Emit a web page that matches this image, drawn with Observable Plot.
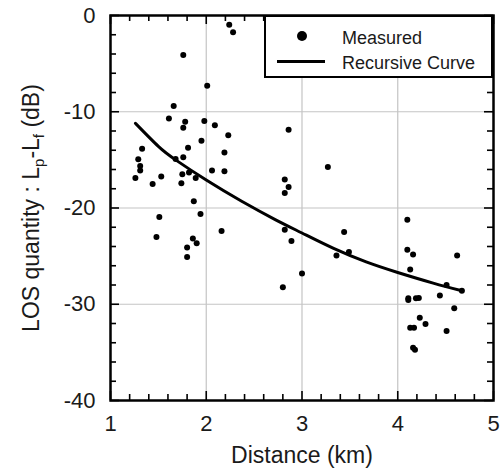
<!DOCTYPE html>
<html>
<head>
<meta charset="utf-8">
<script src="https://cdn.jsdelivr.net/npm/d3@7"></script>
<script src="https://cdn.jsdelivr.net/npm/@observablehq/plot@0.6"></script>
<style>
  body { margin: 0; background: #fff; }
  #wrap { position: relative; width: 502px; height: 470px; font-family: "Liberation Sans", Arial, sans-serif; color: #1a1a1a; }
  #legend { position: absolute; left: 264px; top: 15px; width: 229px; height: 63px; box-sizing: border-box; border: 2.5px solid #000; background: #fff; }
  #legend .item { position: absolute; left: 76px; font-size: 18px; line-height: 18px; white-space: nowrap; }
  #legend .sym-dot { position: absolute; left: 31px; top: 14px; width: 10px; height: 10px; border-radius: 50%; background: #000; }
  #legend .sym-line { position: absolute; left: 11px; top: 43px; width: 48px; height: 3px; background: #000; }
</style>
</head>
<body>
<div id="wrap"></div>
<script>
// Measured points (distance in km, LOS quantity Lp-Lf in dB)
const distance = [2.24,2.28,1.76,2.01,1.66,1.61,1.78,1.76,1.98,2.09,
  2.23,2.86,1.95,1.81,1.33,1.29,2.19,1.76,1.68,1.31,
  1.31,1.26,1.53,1.44,1.75,1.74,1.82,1.89,2.06,2.19,
  1.87,1.94,1.51,1.48,2.16,1.86,1.90,1.80,1.80,
  3.27,2.82,2.86,2.82,2.82,3.44,2.89,3.36,3.49,3.00,2.80,
  4.10,4.10,4.16,4.62,4.13,4.51,4.67,4.44,4.11,4.11,
  4.19,4.22,4.59,4.23,4.29,4.13,4.17,4.51,4.16,4.18];
const losQuantity = [-0.97,-1.74,-4.10,-7.29,-9.41,-10.69,-11.04,-11.67,-10.97,-11.39,
  -12.43,-11.88,-13.02,-13.75,-13.85,-14.93,-14.24,-14.72,-14.90,-15.63,
  -16.11,-16.88,-16.74,-17.50,-16.49,-17.43,-16.32,-16.88,-16.11,-16.18,
  -19.31,-20.63,-20.94,-23.02,-22.40,-23.16,-23.65,-24.10,-25.10,
  -15.73,-17.05,-17.81,-18.44,-22.26,-22.50,-23.44,-24.93,-24.58,-26.81,-28.23,
  -21.22,-24.34,-24.83,-24.93,-26.39,-27.99,-28.61,-29.10,-29.38,-29.55,
  -29.38,-29.34,-30.42,-31.39,-32.05,-32.43,-32.43,-32.78,-34.51,-34.72];

// Recursive curve
const curveDistance = [1.26,1.50,1.68,2.00,2.37,2.72,3.00,3.33,3.67,4.00,4.37,4.67];
const curveLos = [-11.2,-13.6,-15.0,-17.1,-19.3,-21.2,-22.6,-24.2,-25.6,-26.7,-27.8,-28.6];

// Ticks
const xTicks = [1,2,3,4,5];
const yTicks = [0,-10,-20,-30,-40];
const xGrid = [2,3,4];
const yGrid = [-10,-20,-30];
const xMinorTicks = [1.2,1.4,1.6,1.8,2.2,2.4,2.6,2.8,3.2,3.4,3.6,3.8,4.2,4.4,4.6,4.8];
const yMinorTicks = [-2,-4,-6,-8,-12,-14,-16,-18,-22,-24,-26,-28,-32,-34,-36,-38];

const xTitle = "Distance (km)";
const yTitle = "LOS quantity : Lp-Lf (dB)";
const legendLabels = ["Measured", "Recursive Curve"];

const points = distance.map((d, i) => ({distance: d, los: losQuantity[i]}));
const curve = curveDistance.map((d, i) => ({distance: d, los: curveLos[i]}));

const W = 502, H = 470, ML = 110, MR = 9, MT = 15, MB = 70;
const frameW = W - ML - MR, frameH = H - MT - MB;
const gridColor = "#c4c4c4";
const fmt = d => String(d);

// short inward ticks: rules spanning the frame, cut down with insets
function inwardTicks(values, side, len) {
  const common = {stroke: "#000", strokeWidth: 1.6};
  if (side === "bottom") return Plot.ruleX(values, {x: d => d, insetTop: frameH - len, ...common});
  if (side === "top") return Plot.ruleX(values, {x: d => d, insetBottom: frameH - len, ...common});
  if (side === "left") return Plot.ruleY(values, {y: d => d, insetRight: frameW - len, ...common});
  return Plot.ruleY(values, {y: d => d, insetLeft: frameW - len, ...common});
}

const chart = Plot.plot({
  width: W,
  height: H,
  marginLeft: ML,
  marginRight: MR,
  marginTop: MT,
  marginBottom: MB,
  style: {fontFamily: "Liberation Sans, Arial, sans-serif", fontSize: "22px", background: "white", overflow: "visible"},
  x: {domain: [1, 5]},
  y: {domain: [-40, 0]},
  marks: [
    Plot.gridX({ticks: xGrid, stroke: gridColor, strokeOpacity: 1, strokeWidth: 1.2}),
    Plot.gridY({ticks: yGrid, stroke: gridColor, strokeOpacity: 1, strokeWidth: 1.2}),
    Plot.frame({stroke: "black", strokeWidth: 2.5}),
    inwardTicks(xMinorTicks, "bottom", 6),
    inwardTicks(xMinorTicks, "top", 6),
    inwardTicks(yMinorTicks, "left", 6),
    inwardTicks(yMinorTicks, "right", 6),
    inwardTicks(xTicks, "bottom", 9),
    inwardTicks(xTicks, "top", 9),
    inwardTicks(yTicks, "left", 9),
    inwardTicks(yTicks, "right", 9),
    // tick labels
    Plot.axisX({ticks: xTicks, anchor: "bottom", tickSize: 0, tickPadding: 15, tickFormat: fmt, label: null, fontSize: 22, fill: "#1a1a1a"}),
    Plot.axisY({ticks: yTicks, anchor: "left", tickSize: 0, tickPadding: 15, tickFormat: fmt, label: null, fontSize: 22, fill: "#1a1a1a"}),
    Plot.line(curve, {x: "distance", y: "los", curve: "natural", stroke: "black", strokeWidth: 3}),
    Plot.dot(points, {x: "distance", y: "los", r: 3, fill: "black"}),
    Plot.text([xTitle], {frameAnchor: "bottom", dy: 55, lineAnchor: "middle", textAnchor: "middle", fontSize: 23, fill: "#1a1a1a"}),
    Plot.text([yTitle], {frameAnchor: "left", dx: -79, rotate: -90, lineAnchor: "middle", textAnchor: "middle", fontSize: 23, fill: "#1a1a1a"})
  ]
});

// add subscripts to the y-axis title
const NS = "http://www.w3.org/2000/svg";
for (const t of chart.querySelectorAll("text")) {
  if (t.textContent === yTitle) {
    t.textContent = "";
    const parts = [["LOS quantity : L", null], ["p", 5], ["-L", -5], ["f", 5], [" (dB)", -5]];
    for (const [s, dy] of parts) {
      const ts = document.createElementNS(NS, "tspan");
      ts.textContent = s;
      if (dy !== null) ts.setAttribute("dy", dy);
      if (dy === 5) ts.setAttribute("font-size", "15");
      t.appendChild(ts);
    }
  }
}

const wrap = document.getElementById("wrap");
wrap.appendChild(chart);

const legend = document.createElement("div");
legend.id = "legend";
legend.innerHTML = `<div class="sym-dot"></div><div class="item" style="top:12px">${legendLabels[0]}</div>
<div class="sym-line"></div><div class="item" style="top:37px">${legendLabels[1]}</div>`;
wrap.appendChild(legend);
</script>
</body>
</html>
